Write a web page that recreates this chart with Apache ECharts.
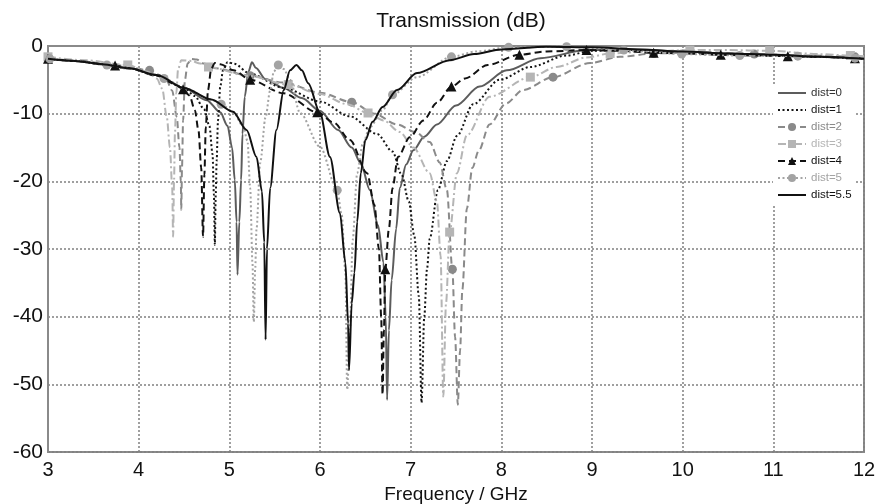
<!DOCTYPE html>
<html>
<head>
<meta charset="utf-8">
<title>Transmission (dB)</title>
<script src="https://cdn.jsdelivr.net/npm/echarts/dist/echarts.min.js"></script>
<style>
  html, body { margin: 0; padding: 0; background: #fff; }
  #chart { width: 875px; height: 504px; }
</style>
</head>
<body>
<div id="chart"></div>
<script>
// axis ticks
const xTicks = [3, 4, 5, 6, 7, 8, 9, 10, 11, 12]
const yTicks = [0, -10, -20, -30, -40, -50, -60]

const seriesNames = ['dist=0', 'dist=1', 'dist=2', 'dist=3', 'dist=4', 'dist=5', 'dist=5.5']

// curves: [GHz, dB]
const dist0Curve = [[3.0,-1.9],[3.3,-2.2],[3.6,-2.7],[3.9,-3.3],[4.2,-4.3],[4.5,-6.2],[4.75,-8.0],[4.9,-9.8],[4.98,-11.8],[5.03,-15],[5.06,-19.8],[5.08,-26],[5.09,-33.8],[5.11,-26],[5.13,-19.8],[5.145,-13],[5.17,-7.5],[5.21,-3.8],[5.25,-2.4],[5.29,-3.2],[5.4,-4.9],[5.6,-6.2],[5.8,-7.7],[6.0,-9.6],[6.2,-12.4],[6.35,-15],[6.45,-17.3],[6.55,-21.3],[6.64,-26.5],[6.7,-32],[6.725,-40],[6.74,-52.3],[6.76,-42],[6.79,-34.6],[6.84,-27],[6.88,-21],[6.95,-17.5],[7.03,-15.4],[7.15,-13.4],[7.29,-11.6],[7.5,-8.8],[7.76,-6.0],[8.06,-3.6],[8.43,-1.8],[8.94,-0.6],[9.5,-0.5],[10,-0.8],[10.5,-1.1],[11,-1.3],[11.5,-1.6],[12,-1.9]]
const dist0Marks = []

const dist1Curve = [[3.0,-1.9],[3.3,-2.2],[3.6,-2.7],[3.9,-3.3],[4.2,-4.3],[4.5,-6.2],[4.62,-7.4],[4.72,-9.3],[4.78,-11.8],[4.815,-16],[4.83,-22],[4.84,-29.4],[4.85,-22],[4.86,-17],[4.875,-11],[4.9,-6],[4.93,-3.6],[4.98,-2.4],[5.05,-2.6],[5.23,-4.1],[5.6,-6.2],[6.0,-8.2],[6.33,-10.4],[6.63,-13],[6.8,-15.6],[6.9,-19],[6.98,-23],[7.04,-28],[7.09,-37],[7.12,-52.7],[7.15,-40],[7.18,-33],[7.21,-28.5],[7.3,-21.3],[7.4,-17],[7.51,-13.3],[7.69,-8.6],[7.98,-5.0],[8.32,-3.1],[8.72,-1.4],[9.0,-0.7],[9.5,-0.6],[10,-0.9],[10.5,-1.2],[11,-1.4],[11.5,-1.6],[12,-1.9]]
const dist1Marks = []

const dist2Curve = [[3.4,-2.3],[3.8,-2.9],[4.3,-4.8],[4.37,-6.6],[4.42,-10.5],[4.45,-15],[4.465,-20],[4.47,-24.2],[4.478,-18],[4.49,-11],[4.51,-5],[4.54,-2.6],[4.58,-1.9],[4.64,-2.0],[4.72,-2.6],[4.85,-3.3],[5.6,-5.4],[6.0,-6.9],[6.6,-10.0],[6.85,-11.6],[7.05,-12.7],[7.21,-14.2],[7.32,-17.2],[7.4,-21.3],[7.49,-43],[7.52,-53],[7.545,-45],[7.57,-36],[7.62,-24],[7.68,-18],[7.75,-15.5],[7.87,-11.6],[8.05,-8.5],[8.24,-6.5],[8.98,-2.5],[9.31,-1.6],[10.2,-0.9],[11.4,-1.4],[12,-1.7]]
const dist2Marks = [[3.01,-1.8],[4.12,-3.6],[5.23,-4.4],[6.35,-8.3],[7.46,-33],[8.57,-4.6],[9.68,-1.1],[10.79,-1.2],[11.9,-1.6]]

const dist3Curve = [[3.4,-2.1],[4.1,-3.8],[4.2,-4.8],[4.26,-6.3],[4.31,-10.5],[4.345,-15],[4.37,-21],[4.38,-28.2],[4.39,-20],[4.4,-13],[4.415,-7],[4.435,-3.4],[4.47,-2.1],[4.58,-2.2],[4.68,-2.6],[5.2,-4.4],[6.0,-7.1],[6.3,-8.6],[6.7,-11.0],[6.88,-12.7],[7.03,-15],[7.21,-18.8],[7.29,-23],[7.33,-31],[7.36,-51.8],[7.39,-38],[7.51,-18.8],[7.62,-13.2],[7.87,-7.5],[8.61,-3.1],[8.94,-1.7],[9.5,-0.9],[10.5,-0.6],[11.5,-1.2],[12,-1.5]]
const dist3Marks = [[3.0,-1.6],[3.88,-2.8],[4.77,-3.1],[5.65,-5.7],[6.53,-9.9],[7.43,-27.5],[8.32,-4.6],[9.2,-1.1],[10.08,-0.6],[10.96,-0.7],[11.85,-1.4]]

const dist4Curve = [[3.3,-2.2],[3.9,-3.3],[4.2,-4.4],[4.4,-5.6],[4.56,-7.3],[4.62,-9.5],[4.66,-12.5],[4.69,-18],[4.71,-28.2],[4.725,-19],[4.74,-12],[4.765,-6.5],[4.8,-3.4],[4.84,-2.5],[4.9,-2.7],[5.05,-3.6],[5.6,-7.0],[6.15,-11.3],[6.33,-13.9],[6.52,-18.8],[6.6,-23.5],[6.65,-30],[6.675,-40],[6.69,-51.5],[6.705,-42],[6.76,-27],[6.8,-21],[6.86,-16.4],[6.99,-13.5],[7.14,-11.0],[7.29,-8.4],[7.6,-4.8],[7.85,-2.8],[8.5,-0.8],[9.3,-0.7],[10.0,-1.1],[10.8,-1.4],[11.5,-1.6],[12,-1.8]]
const dist4Marks = [[3.0,-1.9],[3.74,-2.9],[4.49,-6.4],[5.23,-5.0],[5.97,-9.8],[6.72,-33],[7.45,-6.0],[8.2,-1.3],[8.94,-0.6],[9.68,-1.0],[10.42,-1.3],[11.16,-1.5],[11.9,-1.8]]

const dist5Curve = [[3.3,-2.2],[3.9,-3.3],[4.2,-4.3],[4.5,-6.2],[4.8,-7.9],[5.04,-9.7],[5.15,-11.8],[5.2,-14],[5.23,-21],[5.255,-32],[5.27,-40.8],[5.285,-33],[5.3,-27],[5.34,-17.3],[5.4,-10.5],[5.45,-6.6],[5.49,-3.8],[5.6,-3.4],[5.67,-5],[5.78,-9.9],[6.0,-14.9],[6.24,-25],[6.28,-33.5],[6.3,-50.8],[6.33,-42],[6.36,-28.7],[6.41,-18.8],[6.47,-14.5],[6.55,-12],[6.69,-9.5],[7.07,-4.6],[7.73,-0.8],[9.0,-0.3],[9.6,-0.8],[12,-1.8]]
const dist5Marks = [[3.02,-1.9],[3.65,-2.8],[4.28,-4.8],[4.91,-8.6],[5.54,-2.8],[6.19,-21.3],[6.8,-7.2],[7.45,-1.6],[8.08,-0.2],[8.72,-0.1],[9.35,-0.6],[9.99,-1.2],[10.63,-1.4],[11.27,-1.5],[11.9,-1.8]]

const dist55Curve = [[3.0,-1.9],[3.3,-2.2],[3.6,-2.7],[3.9,-3.3],[4.2,-4.3],[4.5,-6.2],[4.8,-7.9],[5.04,-9.7],[5.19,-12.4],[5.3,-16.4],[5.36,-21.5],[5.385,-29],[5.4,-43.4],[5.415,-30],[5.45,-21],[5.52,-12.4],[5.6,-6.5],[5.67,-3.6],[5.74,-2.8],[5.8,-3.6],[5.87,-5.5],[6.0,-9.9],[6.11,-16.4],[6.22,-24.7],[6.28,-32],[6.31,-41],[6.32,-47.9],[6.35,-38],[6.38,-33.5],[6.41,-26],[6.45,-18.8],[6.5,-13.9],[6.58,-11.2],[6.69,-9.0],[6.85,-6.5],[7.07,-4.0],[7.43,-2.1],[7.7,-1.2],[8.0,-0.5],[8.5,-0.1],[9.0,-0.2],[9.5,-0.5],[10,-0.8],[10.5,-1.1],[11,-1.3],[11.5,-1.6],[12,-1.9]]
const dist55Marks = []

// curve points without symbol, marker points with the series symbol
function build(curve, marks) {
  const pts = curve.map(p => ({ value: p, symbol: 'none' }))
    .concat(marks.map(p => ({ value: p })))
  pts.sort((a, b) => a.value[0] - b.value[0])
  return pts
}

const styles = [
  { color: '#5c5c5c', text: '#333333', dash: 'solid', symbol: 'none', size: 0 },
  { color: '#151515', text: '#151515', dash: [2, 2.5], symbol: 'none', size: 0 },
  { color: '#8a8a8a', text: '#8a8a8a', dash: [7, 4], symbol: 'circle', size: 9 },
  { color: '#b5b5b5', text: '#b5b5b5', dash: [8, 3, 2, 3], symbol: 'rect', size: 9 },
  { color: '#111111', text: '#111111', dash: [7, 4], symbol: 'triangle', size: 10 },
  { color: '#a3a3a3', text: '#a3a3a3', dash: [2, 2.5], symbol: 'circle', size: 9 },
  { color: '#111111', text: '#111111', dash: 'solid', symbol: 'none', size: 0 }
]
const curves = [dist0Curve, dist1Curve, dist2Curve, dist3Curve, dist4Curve, dist5Curve, dist55Curve]
const marks = [dist0Marks, dist1Marks, dist2Marks, dist3Marks, dist4Marks, dist5Marks, dist55Marks]

const font = "'Liberation Sans', Arial, sans-serif"

const chart = echarts.init(document.getElementById('chart'))
chart.setOption({
  animation: false,
  backgroundColor: '#fff',
  title: {
    text: 'Transmission (dB)',
    left: 456, top: 6, textAlign: 'center',
    textStyle: { fontFamily: font, fontSize: 21, fontWeight: 'normal', color: '#111' }
  },
  grid: {
    left: 48, right: 11, top: 46, bottom: 52,
    outerBoundsMode: 'none',
    show: true, borderColor: '#8a8a8a', borderWidth: 2, backgroundColor: '#fff'
  },
  legend: {
    orient: 'vertical',
    left: 773, top: 84,
    padding: [3, 4],
    itemGap: 5,
    itemWidth: 28, itemHeight: 10,
    backgroundColor: '#fff',
    data: seriesNames.map((n, i) => {
      const item = { name: n, textStyle: { color: styles[i].text } }
      if (styles[i].symbol === 'none') item.itemStyle = { opacity: 0 }
      return item
    }),
    textStyle: { fontFamily: font, fontSize: 11.5 }
  },
  xAxis: {
    type: 'value', min: xTicks[0], max: xTicks[xTicks.length - 1], interval: 1,
    name: 'Frequency / GHz', nameLocation: 'middle', nameGap: 31,
    nameTextStyle: { fontFamily: font, fontSize: 19, color: '#111' },
    axisLine: { lineStyle: { color: '#8a8a8a', width: 2 } },
    axisTick: { show: false },
    axisLabel: { fontFamily: font, fontSize: 20, color: '#111', margin: 8 },
    splitLine: { show: true, lineStyle: { color: '#808080', width: 1.5, type: [2, 2] } }
  },
  yAxis: {
    type: 'value', min: yTicks[yTicks.length - 1], max: yTicks[0], interval: 10,
    axisLine: { show: true, lineStyle: { color: '#8a8a8a', width: 2 } },
    axisTick: { show: false },
    axisLabel: { fontFamily: font, fontSize: 21, color: '#111', margin: 5 },
    splitLine: { show: true, lineStyle: { color: '#808080', width: 1.5, type: [2, 2] } }
  },
  series: seriesNames.map((n, i) => ({
    name: n,
    type: 'line',
    data: build(curves[i], marks[i]),
    smooth: 0.3,
    smoothMonotone: 'x',
    symbol: styles[i].symbol,
    symbolSize: styles[i].size,
    showSymbol: true,
    itemStyle: { color: styles[i].color },
    lineStyle: { color: styles[i].color, width: 2, type: styles[i].dash },
    z: 2 + i
  }))
})
</script>
</body>
</html>
